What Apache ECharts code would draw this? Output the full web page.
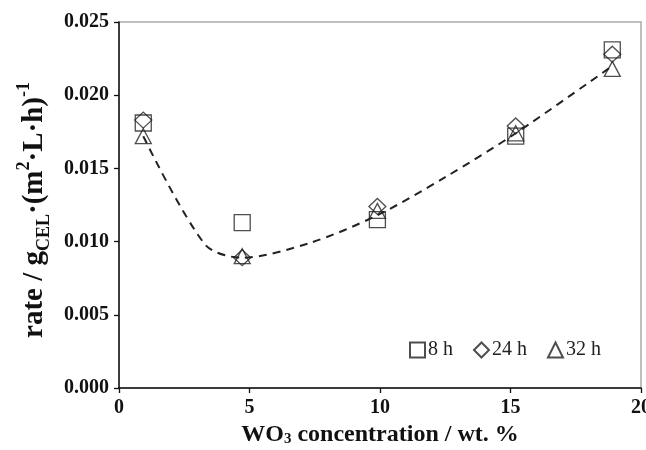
<!DOCTYPE html>
<html>
<head>
<meta charset="utf-8">
<script src="https://cdn.jsdelivr.net/npm/echarts@6/dist/echarts.min.js"></script>
<style>
  html, body { margin: 0; padding: 0; background: #fff; }
  #rate { width: 646px; height: 450px; }
</style>
</head>
<body>
<div id="rate"></div>
<script>
// WO3 loading (wt. %) and rates for each reaction time
var concentration = [0.93, 4.72, 9.9, 15.2, 18.9];
var rate8h = [0.0181, 0.0113, 0.0115, 0.0172, 0.0231];
var rate24h = [0.0183, 0.0089, 0.0124, 0.0179, 0.0228];
var rate32h = [0.0172, 0.0090, 0.0121, 0.0174, 0.0218];

// dashed trend line
var fitX = [0.93, 3.3, 4.72, 7.3, 9.9, 12.5, 15.2, 18.9];
var fitY = [0.0172, 0.0098, 0.0089, 0.0099, 0.0118, 0.0144, 0.0174, 0.0220];

var serif = 'Liberation Serif';
var chartDom = document.getElementById('rate');
var rateChart = echarts.init(chartDom);

function pairs(xs, ys) {
    return xs.map(function (x, i) { return [x, ys[i]]; });
}

function markerSeries(name, values, symbol, size) {
    return {
        name: name,
        type: 'scatter',
        data: pairs(concentration, values),
        symbol: symbol,
        symbolSize: size,
        itemStyle: {
            color: 'rgba(0,0,0,0)',
            borderColor: '#222',
            borderWidth: 1.3
        },
        z: 3
    };
}

var option = {
    animation: false,
    backgroundColor: '#fff',
    grid: {
        left: 119,
        top: 22,
        right: 5,
        bottom: 62,
        containLabel: false,
        outerBoundsMode: 'none',
        show: true,
        borderColor: '#aaa',
        borderWidth: 1.5
    },
    legend: {
        data: ['8 h', '24 h', '32 h'],
        left: 404,
        top: 335,
        itemWidth: 15,
        itemHeight: 15,
        itemGap: 20,
        textStyle: { fontFamily: serif, fontSize: 20, color: '#222', padding: [0, 0, 0, -2] }
    },
    xAxis: {
        type: 'value',
        min: 0,
        max: 20,
        interval: 5,
        name: 'WO{sub|3} concentration / wt. %',
        nameLocation: 'middle',
        nameGap: 34,
        nameTextStyle: {
            fontFamily: serif,
            fontWeight: 'bold',
            fontSize: 24,
            color: '#111',
            rich: {
                sub: { fontFamily: serif, fontWeight: 'bold', fontSize: 15, verticalAlign: 'bottom', lineHeight: 12, color: '#111' }
            }
        },
        axisLine: { lineStyle: { color: '#111', width: 1.5 } },
        axisTick: { length: 5, lineStyle: { color: '#111', width: 1.3 } },
        axisLabel: { fontFamily: serif, fontWeight: 'bold', fontSize: 20, color: '#111', margin: 10 },
        splitLine: { show: false }
    },
    yAxis: {
        type: 'value',
        min: 0,
        max: 0.025,
        interval: 0.005,
        name: 'rate / g{sub|CEL}·(m{sup|2}·L·h){sup|-1}',
        nameLocation: 'middle',
        nameRotate: 90,
        nameGap: 64,
        nameTextStyle: {
            fontFamily: serif,
            fontWeight: 'bold',
            fontSize: 29,
            lineHeight: 38,
            color: '#111',
            padding: [0, 10, 0, 0],
            rich: {
                sub: { fontFamily: serif, fontWeight: 'bold', fontSize: 18, verticalAlign: 'bottom', lineHeight: 16, color: '#111' },
                sup: { fontFamily: serif, fontWeight: 'bold', fontSize: 18, verticalAlign: 'top', lineHeight: 16, color: '#111' }
            }
        },
        axisLine: { show: true, lineStyle: { color: '#111', width: 1.5 } },
        axisTick: { show: true, length: 5, lineStyle: { color: '#111', width: 1.3 } },
        axisLabel: {
            fontFamily: serif,
            fontWeight: 'bold',
            fontSize: 20,
            color: '#111',
            margin: 10,
            formatter: function (v) { return v.toFixed(3); }
        },
        splitLine: { show: false }
    },
    series: [
        {
            name: 'fit',
            type: 'line',
            data: pairs(fitX, fitY),
            smooth: 0.3,
            showSymbol: false,
            lineStyle: { color: '#222', width: 2, type: [8, 6] },
            z: 2
        },
        markerSeries('8 h', rate8h, 'rect', 16),
        markerSeries('24 h', rate24h, 'diamond', [17, 16]),
        markerSeries('32 h', rate32h, 'triangle', [16, 15])
    ]
};

option && rateChart.setOption(option);

window.addEventListener('resize', function () {
    rateChart.resize();
});
</script>
</body>
</html>
